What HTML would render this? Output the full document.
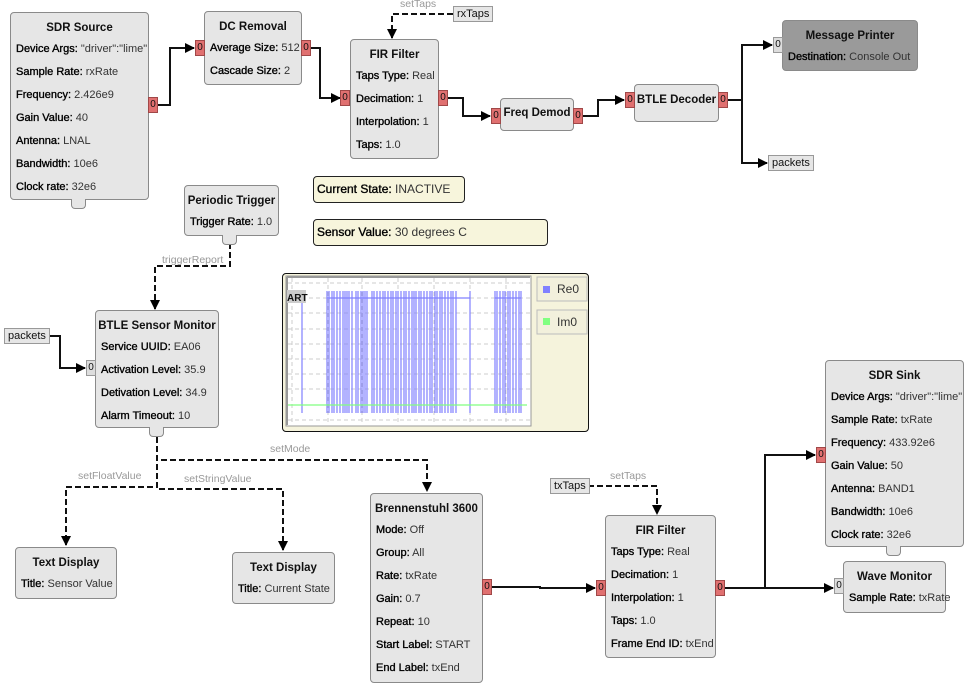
<!DOCTYPE html>
<html><head><meta charset="utf-8"><style>
body{margin:0;width:972px;height:692px;background:#fff;position:relative;overflow:hidden;font-family:"Liberation Sans","DejaVu Sans",sans-serif;font-size:11px;color:#111}
.b{position:absolute;background:#e6e6e6;border:1px solid #8a8a8a;border-radius:4px;box-sizing:border-box;padding-left:5px}
.b .t{position:absolute;left:0;right:0;top:4px;text-align:center;font-weight:bold;font-size:11.5px;line-height:23px;white-space:nowrap}
.b .p{position:absolute;left:5px;top:25px;line-height:23px;white-space:nowrap;font-size:11px}
.b .p b{font-weight:normal;color:#000;-webkit-text-stroke:0.35px #000}
.b .p span{font-weight:normal;color:#333}
.dk{background:#9a9a9a}
.pt{position:absolute;width:10px;height:16px;background:#e07070;border:1px solid #a04848;box-sizing:border-box;font-size:10px;line-height:14px;text-align:center;color:#111}
.pg{background:#ddd;border-color:#999}
.tab{position:absolute;width:15px;height:10px;background:#e6e6e6;border:1px solid #8a8a8a;border-top:none;border-radius:0 0 4px 4px;box-sizing:border-box}
.ps{position:absolute;height:16px;background:#e6e6e6;border:1px solid #999;box-sizing:border-box;font-size:11px;line-height:14px;padding:0 3px;white-space:nowrap}
.note{position:absolute;background:#f7f5dc;border:1px solid #222;border-radius:4px;box-sizing:border-box;font-size:12px;line-height:24px;padding-left:3px;white-space:nowrap;color:#333}
.note b{font-weight:normal;color:#000;-webkit-text-stroke:0.35px #000}
.lbl{position:absolute;font-size:10.5px;color:#999;white-space:nowrap}
</style></head><body>

<svg width="972" height="692" style="position:absolute;left:0;top:0">
<defs><marker id="a" markerWidth="10" markerHeight="10" refX="9" refY="5" orient="auto" markerUnits="userSpaceOnUse"><path d="M0,0L10,5L0,10z" fill="#000"/></marker></defs>
<g fill="none" stroke="#111" stroke-width="2">
<path d="M158,105H170V48H194" marker-end="url(#a)"/>
<path d="M311,48H320V98H340" marker-end="url(#a)"/>
<path d="M448,98H463V116H490" marker-end="url(#a)"/>
<path d="M583,116H598V100H624" marker-end="url(#a)"/>
<path d="M728,100H742V45H772" marker-end="url(#a)"/>
<path d="M728,100H742V163H767" marker-end="url(#a)"/>
<path d="M46,336H60V368H85" marker-end="url(#a)"/>
<path d="M492,587H540V588H595" marker-end="url(#a)"/>
<path d="M725,588H765V455H815" marker-end="url(#a)"/>
<path d="M725,588H833" marker-end="url(#a)"/>
</g>
<g fill="none" stroke="#111" stroke-width="2" stroke-dasharray="6,3">
<path d="M453,14H392V38" marker-end="url(#a)"/>
<path d="M230,243V266H155V309" marker-end="url(#a)"/>
<path d="M157,437V460H427V491" marker-end="url(#a)"/>
<path d="M157,437V487H66V545" marker-end="url(#a)"/>
<path d="M157,437V489H283V550" marker-end="url(#a)"/>
<path d="M588,486H657V514" marker-end="url(#a)"/>
</g>
</svg>

<div class="lbl" style="left:400px;top:-2px">setTaps</div>
<div class="lbl" style="left:162px;top:254px">triggerReport</div>
<div class="lbl" style="left:270px;top:443px">setMode</div>
<div class="lbl" style="left:78px;top:470px">setFloatValue</div>
<div class="lbl" style="left:184px;top:473px">setStringValue</div>
<div class="lbl" style="left:610px;top:470px">setTaps</div>

<div class="b" style="left:10px;top:12px;width:139px;height:188px"><div class="t">SDR Source</div><div class="p"><b>Device Args:</b> <span>"driver":"lime"</span><br><b>Sample Rate:</b> <span>rxRate</span><br><b>Frequency:</b> <span>2.426e9</span><br><b>Gain Value:</b> <span>40</span><br><b>Antenna:</b> <span>LNAL</span><br><b>Bandwidth:</b> <span>10e6</span><br><b>Clock rate:</b> <span>32e6</span></div></div>
<div class="pt" style="left:148px;top:97px">0</div>
<div class="tab" style="left:71px;top:199px"></div>

<div class="b" style="left:204px;top:11px;width:98px;height:74px"><div class="t">DC Removal</div><div class="p"><b>Average Size:</b> <span>512</span><br><b>Cascade Size:</b> <span>2</span></div></div>
<div class="pt" style="left:195px;top:40px">0</div><div class="pt" style="left:301px;top:40px">0</div>

<div class="b" style="left:350px;top:39px;width:89px;height:120px"><div class="t">FIR Filter</div><div class="p"><b>Taps Type:</b> <span>Real</span><br><b>Decimation:</b> <span>1</span><br><b>Interpolation:</b> <span>1</span><br><b>Taps:</b> <span>1.0</span></div></div>
<div class="pt" style="left:340px;top:90px">0</div><div class="pt" style="left:438px;top:90px">0</div>
<div class="ps" style="left:453px;top:6px">rxTaps</div>

<div class="b" style="left:500px;top:98px;width:74px;height:33px"><div class="t" style="top:3px">Freq Demod</div></div>
<div class="pt" style="left:491px;top:108px">0</div><div class="pt" style="left:573px;top:108px">0</div>

<div class="b" style="left:634px;top:84px;width:85px;height:38px"><div class="t">BTLE Decoder</div></div>
<div class="pt" style="left:625px;top:92px">0</div><div class="pt" style="left:718px;top:92px">0</div>

<div class="b dk" style="left:782px;top:20px;width:136px;height:51px"><div class="t">Message Printer</div><div class="p"><b>Destination:</b> <span>Console Out</span></div></div>
<div class="pt pg" style="left:773px;top:37px">0</div>
<div class="ps" style="left:768px;top:155px">packets</div>

<div class="note" style="left:313px;top:176px;width:152px;height:27px"><b>Current State:</b> INACTIVE</div>
<div class="note" style="left:313px;top:219px;width:235px;height:27px"><b>Sensor Value:</b> 30 degrees C</div>

<div class="b" style="left:184px;top:185px;width:95px;height:51px"><div class="t">Periodic Trigger</div><div class="p"><b>Trigger Rate:</b> <span>1.0</span></div></div>
<div class="tab" style="left:222px;top:235px"></div>

<div class="b" style="left:95px;top:310px;width:124px;height:118px"><div class="t">BTLE Sensor Monitor</div><div class="p"><b>Service UUID:</b> <span>EA06</span><br><b>Activation Level:</b> <span>35.9</span><br><b>Detivation Level:</b> <span>34.9</span><br><b>Alarm Timeout:</b> <span>10</span></div></div>
<div class="pt pg" style="left:86px;top:360px">0</div>
<div class="tab" style="left:149px;top:427px"></div>
<div class="ps" style="left:4px;top:328px">packets</div>

<div style="position:absolute;left:282px;top:273px;width:307px;height:159px;background:#f5f3dc;border:1px solid #111;border-radius:4px;box-sizing:border-box"></div>
<svg width="972" height="692" style="position:absolute;left:0;top:0">
<rect x="286" y="276" width="245" height="150" fill="#fff" stroke="#999" stroke-width="1"/>
<path d="M287,277V425M287,277H530" stroke="#999" stroke-width="2"/>
<g stroke="#ccc" stroke-dasharray="4,3" stroke-width="1">
<path d="M292,278V425M328,278V425M362,278V425M398,278V425M434,278V425M470,278V425M506,278V425"/>
<path d="M288,283H530M288,298H530M288,313H530M288,329H530M288,344H530M288,359H530M288,374H530M288,389H530M288,420H530"/>
</g>
<g stroke="#8080ff" stroke-width="1.2">
<path d="M302,300V413M327,291V413M329,291V413M332,291V413M334,291V413M337,291V413M340,291V413M343,291V413M345,291V413M347,291V413M349,291V413M352,291V413M356,291V413M358,291V413M361,291V413M363,291V413M365,291V413M367,291V413M372,291V413M374,291V413M377,291V413M380,291V413M383,291V413M385,291V413M388,291V413M391,291V413M393,291V413M396,291V413M398,291V413M401,291V413M404,291V413M406,291V413M409,291V413M412,291V413M414,291V413M416,291V413M419,291V413M421,291V413M424,291V413M427,291V413M430,291V413M432,291V413M435,291V413M437,291V413M440,291V413M442,291V413M445,291V413M448,291V413M451,291V413M453,291V413M456,291V413M470,291V413M495,291V413M497,291V413M500,291V413M503,291V413M505,291V413M508,291V413M510,291V413M513,291V413M516,291V413M519,291V413M521,291V413"/>
<path d="M327,298H470M495,298H521"/>
</g>
<path d="M288,405H527" stroke="#80ff80" stroke-width="1.2"/>
<rect x="287" y="290" width="19" height="13" fill="#ccc"/>
<text x="287" y="301" font-family="Liberation Sans,sans-serif" font-size="10" font-weight="bold" fill="#111">ART</text>
<rect x="537" y="277" width="50" height="24" fill="#f2f0dc" stroke="#bbb"/>
<rect x="543" y="286" width="7" height="7" fill="#8080ff"/>
<text x="557" y="293" font-family="Liberation Sans,sans-serif" font-size="12" fill="#333">Re0</text>
<rect x="537" y="310" width="50" height="24" fill="#f2f0dc" stroke="#bbb"/>
<rect x="543" y="318" width="7" height="7" fill="#80ff80"/>
<text x="557" y="326" font-family="Liberation Sans,sans-serif" font-size="12" fill="#333">Im0</text>
</svg>

<div class="b" style="left:15px;top:547px;width:102px;height:52px"><div class="t">Text Display</div><div class="p"><b>Title:</b> <span>Sensor Value</span></div></div>
<div class="b" style="left:232px;top:552px;width:103px;height:52px"><div class="t">Text Display</div><div class="p"><b>Title:</b> <span>Current State</span></div></div>

<div class="b" style="left:370px;top:493px;width:113px;height:190px"><div class="t">Brennenstuhl 3600</div><div class="p"><b>Mode:</b> <span>Off</span><br><b>Group:</b> <span>All</span><br><b>Rate:</b> <span>txRate</span><br><b>Gain:</b> <span>0.7</span><br><b>Repeat:</b> <span>10</span><br><b>Start Label:</b> <span>START</span><br><b>End Label:</b> <span>txEnd</span></div></div>
<div class="pt" style="left:482px;top:579px">0</div>

<div class="ps" style="left:550px;top:478px">txTaps</div>
<div class="b" style="left:605px;top:515px;width:111px;height:143px"><div class="t">FIR Filter</div><div class="p"><b>Taps Type:</b> <span>Real</span><br><b>Decimation:</b> <span>1</span><br><b>Interpolation:</b> <span>1</span><br><b>Taps:</b> <span>1.0</span><br><b>Frame End ID:</b> <span>txEnd</span></div></div>
<div class="pt" style="left:596px;top:580px">0</div><div class="pt" style="left:715px;top:580px">0</div>

<div class="b" style="left:825px;top:360px;width:139px;height:187px"><div class="t">SDR Sink</div><div class="p"><b>Device Args:</b> <span>"driver":"lime"</span><br><b>Sample Rate:</b> <span>txRate</span><br><b>Frequency:</b> <span>433.92e6</span><br><b>Gain Value:</b> <span>50</span><br><b>Antenna:</b> <span>BAND1</span><br><b>Bandwidth:</b> <span>10e6</span><br><b>Clock rate:</b> <span>32e6</span></div></div>
<div class="pt" style="left:816px;top:447px">0</div>
<div class="tab" style="left:886px;top:546px"></div>

<div class="b" style="left:843px;top:561px;width:103px;height:52px"><div class="t">Wave Monitor</div><div class="p"><b>Sample Rate:</b> <span>txRate</span></div></div>
<div class="pt pg" style="left:834px;top:578px">0</div>
</body></html>
